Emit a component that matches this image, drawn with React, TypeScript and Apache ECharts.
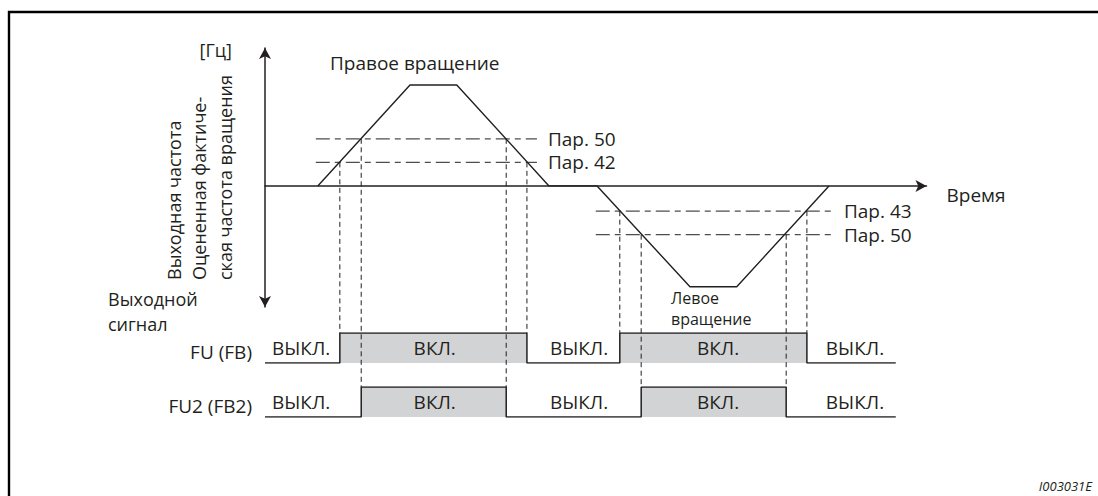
import React, { useEffect, useRef } from "react";
import * as echarts from "echarts";

// ---- data (time in arbitrary units, frequency in Hz) ----
const freqTimes = [7.9, 21.7, 28.7, 42.5, 49.7, 63.6, 70.6, 84.4];
const freqValues = [0, 60, 60, 0, 0, -60, -60, 0];

const thresholdNames = ["Пар. 50", "Пар. 42", "Пар. 43", "Пар. 50"];
const thresholdValues = [28, 14, -15, -29];
const thresholdStarts = [7.6, 7.6, 49.5, 49.5];
const thresholdEnds = [40.7, 40.7, 85.0, 85.0];

const fuOnTimes = [11.2, 53.1];
const fuOffTimes = [39.2, 81.1];
const fuThresholdIdx = [1, 2];
const fu2OnTimes = [14.4, 56.3];
const fu2OffTimes = [36.1, 78.0];
const fu2ThresholdIdx = [0, 3];
const signalEnd = 94.4;

const stateLabelTimes = [5.4, 25.4, 47.0, 67.8, 88.3];
const stateLabels = ["ВЫКЛ.", "ВКЛ.", "ВЫКЛ.", "ВКЛ.", "ВЫКЛ."];

const yTitleLines = ["Выходная частота", "Оцененная фактиче-", "ская частота вращения"];

const INK = "#231f20";
const FONT = "'Open Sans', sans-serif";
const FS = 19;

function stepData(on: number[], off: number[]) {
  const pts: number[][] = [[0, 0]];
  for (let i = 0; i < on.length; i++) {
    pts.push([on[i], 0], [on[i], 1], [off[i], 1], [off[i], 0]);
  }
  pts.push([signalEnd, 0]);
  return pts;
}

export default function App() {
  const ref = useRef<HTMLDivElement>(null);
  useEffect(() => {
    if (!ref.current) return;
    const chart = echarts.init(ref.current, null, { renderer: "svg" });
    const gridLeft = 265;
    const gridWidth = 661.5;
    const hiddenAxis = {
      type: "value" as const,
      show: false,
    };
    const option: any = {
      animation: false,
      grid: [
        { left: gridLeft, top: 48, width: gridWidth, height: 259 },
        { left: gridLeft, top: 333, width: gridWidth, height: 30 },
        { left: gridLeft, top: 387, width: gridWidth, height: 30 },
      ],
      xAxis: [
        {
          type: "value",
          gridIndex: 0,
          min: 0,
          max: 99,
          name: "Время",
          nameLocation: "end",
          nameGap: 20,
          nameTextStyle: {
            color: INK,
            fontFamily: FONT,
            fontSize: FS,
            verticalAlign: "top",
            padding: [0, 0, 0, 0],
          },
          axisLine: {
            show: true,
            onZero: true,
            symbol: ["none", "arrow"],
            symbolSize: [9, 11],
            lineStyle: { color: INK, width: 1.5 },
          },
          axisTick: { show: false },
          axisLabel: { show: false },
          splitLine: { show: false },
        },
        { ...hiddenAxis, gridIndex: 1, min: 0, max: 99 },
        { ...hiddenAxis, gridIndex: 2, min: 0, max: 99 },
      ],
      yAxis: [
        {
          type: "value",
          gridIndex: 0,
          min: -72,
          max: 82,
          axisLine: {
            show: true,
            onZero: false,
            symbol: ["arrow", "arrow"],
            symbolSize: [9, 11],
            lineStyle: { color: INK, width: 1.5 },
          },
          axisTick: { show: false },
          axisLabel: { show: false },
          splitLine: { show: false },
        },
        { ...hiddenAxis, gridIndex: 1, min: 0, max: 1 },
        { ...hiddenAxis, gridIndex: 2, min: 0, max: 1 },
      ],
      series: [
        {
          type: "line",
          name: "Выходная частота",
          xAxisIndex: 0,
          yAxisIndex: 0,
          data: freqTimes.map((t, i) => [t, freqValues[i]]),
          symbol: "none",
          lineStyle: { color: INK, width: 1.4 },
          silent: true,
          z: 5,
        },
        ...thresholdNames.map((name, i) => ({
          type: "line",
          name,
          xAxisIndex: 0,
          yAxisIndex: 0,
          data: [
            [thresholdStarts[i], thresholdValues[i]],
            [thresholdEnds[i], thresholdValues[i]],
          ],
          symbol: "none",
          silent: true,
          lineStyle: { color: "#4d4d4f", width: 1.2, type: [14, 5, 6, 5] },
          endLabel: {
            show: true,
            formatter: name,
            distance: 11,
            color: INK,
            fontFamily: FONT,
            fontSize: FS,
          },
          z: 3,
        })),
        {
          type: "line",
          name: "FU (FB)",
          xAxisIndex: 1,
          yAxisIndex: 1,
          data: stepData(fuOnTimes, fuOffTimes),
          symbol: "none",
          silent: true,
          lineStyle: { color: INK, width: 1.5 },
          areaStyle: { color: "#d1d3d4", opacity: 1 },
        },
        {
          type: "line",
          name: "FU2 (FB2)",
          xAxisIndex: 2,
          yAxisIndex: 2,
          data: stepData(fu2OnTimes, fu2OffTimes),
          symbol: "none",
          silent: true,
          lineStyle: { color: INK, width: 1.5 },
          areaStyle: { color: "#d1d3d4", opacity: 1 },
        },
      ],
    };
    chart.setOption(option);

    const toPx = (gridIndex: number, p: number[]) =>
      chart.convertToPixel({ xAxisIndex: gridIndex, yAxisIndex: gridIndex }, p) as number[];

    const graphics: any[] = [];
    const txt = (text: string, x: number, y: number, extra: any = {}, styleExtra: any = {}) => ({
      type: "text",
      x,
      y,
      silent: true,
      z: 20,
      ...extra,
      style: {
        text,
        fill: INK,
        fontFamily: FONT,
        fontSize: FS,
        align: "left",
        verticalAlign: "middle",
        ...styleExtra,
      },
    });

    // frame
    graphics.push({
      type: "polyline",
      silent: true,
      z: 20,
      shape: { points: [[9, 496], [9, 12], [1098, 12]] },
      style: { stroke: "#000", lineWidth: 2.4, fill: "none" },
    });

    // vertical dashed guide lines
    const addGuides = (on: number[], off: number[], idx: number[], sigGrid: number) => {
      for (let i = 0; i < on.length; i++) {
        for (const t of [on[i], off[i]]) {
          const top = toPx(0, [t, thresholdValues[idx[i]]]);
          const bottom = toPx(sigGrid, [t, 1]);
          graphics.push({
            type: "line",
            silent: true,
            z: 10,
            shape: { x1: top[0], y1: top[1], x2: bottom[0], y2: bottom[1] },
            style: { stroke: INK, lineWidth: 1, lineDash: [5, 3.5] },
          });
        }
      }
    };
    addGuides(fuOnTimes, fuOffTimes, fuThresholdIdx, 1);
    addGuides(fu2OnTimes, fu2OffTimes, fu2ThresholdIdx, 2);

    // state labels
    [1, 2].forEach((g) => {
      stateLabelTimes.forEach((t, i) => {
        const p = toPx(g, [t, 0.5]);
        graphics.push(txt(stateLabels[i], p[0], p[1], {}, { align: "center" }));
      });
    });

    // signal names
    graphics.push(txt("FU (FB)", 252, 352, {}, { align: "right" }));
    graphics.push(txt("FU2 (FB2)", 252, 406, {}, { align: "right" }));
    graphics.push(txt("Выходной", 108, 299, {}, { fontSize: 18 }));
    graphics.push(txt("сигнал", 108, 324, {}, { fontSize: 18 }));

    // y-axis title (rotated)
    const colX = [174, 199, 225];
    yTitleLines.forEach((line, i) => {
      graphics.push(txt(line, colX[i], 280, { rotation: Math.PI / 2 }, { fontSize: 18 }));
    });
    graphics.push(txt("[Гц]", 232, 50, {}, { align: "right", fontSize: 18 }));

    // rotation direction labels
    graphics.push(txt("Правое вращение", 330, 63));
    graphics.push(txt("Левое", 671, 298, {}, { fontSize: 16 }));
    graphics.push(txt("вращение", 671, 319, {}, { fontSize: 16 }));

    // figure id
    graphics.push(txt("I003031E", 1092, 486, {}, { align: "right", fontSize: 13, fontStyle: "italic" }));

    chart.setOption({ graphic: graphics });

    return () => chart.dispose();
  }, []);

  return (
    <div
      ref={ref}
      style={{ position: "fixed", left: 0, top: 0, width: 1098, height: 496, background: "#fff" }}
    />
  );
}
